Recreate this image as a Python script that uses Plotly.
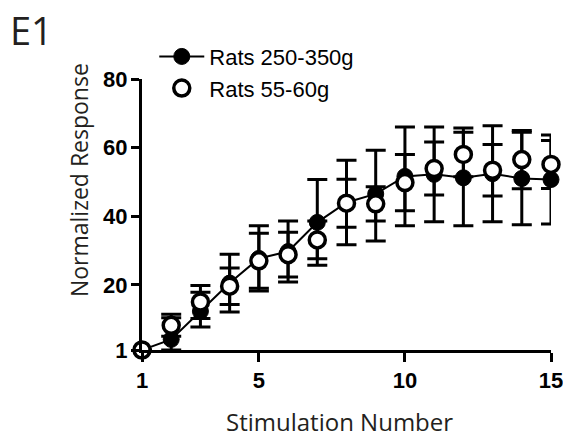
import plotly.graph_objects as go

stim = list(range(1, 16))

heavy_label = "Rats 250-350g"
heavy_mean = [1, 4.1, 12.3, 20.5, 27.7, 29.7, 38.2, 44.0, 46.5, 51.6, 52.2, 51.2, 52.4, 51.0, 50.7]
heavy_err_up = [0, 6.3, 5.5, 8.4, 9.5, 8.9, 12.5, 12.3, 12.7, 14.4, 13.8, 14.5, 14.0, 13.5, 13.0]
heavy_err_dn = [0, 3.1, 4.6, 8.4, 9.5, 8.9, 12.5, 12.3, 13.7, 14.4, 13.8, 14.0, 14.0, 13.5, 13.0]

young_label = "Rats 55-60g"
young_mean = [1, 8.2, 15.0, 19.6, 27.0, 28.8, 33.1, 43.8, 43.6, 49.8, 53.9, 58.0, 53.4, 56.5, 55.1]
young_err = [0, 3.2, 4.8, 5.3, 8.0, 6.5, 5.5, 7.0, 5.0, 8.2, 7.7, 6.5, 7.5, 8.5, 7.0]

x_ticks = [1, 5, 10, 15]
y_ticks = [1, 20, 40, 60, 80]

TXT = "#231f20"

fig = go.Figure()
fig.add_trace(go.Scatter(
    x=stim, y=heavy_mean, name=heavy_label, mode="lines+markers",
    legendgroup="a",
    line=dict(color="black", width=2),
    marker=dict(symbol="circle", size=16, color="black", line=dict(color="black", width=1)),
    error_y=dict(type="data", array=heavy_err_up, arrayminus=heavy_err_dn, symmetric=False,
                 color="black", thickness=3, width=10),
    cliponaxis=False,
))
fig.add_trace(go.Scatter(
    x=stim, y=young_mean, name=young_label, mode="markers",
    legendgroup="b",
    marker=dict(symbol="circle", size=16, color="white", line=dict(color="black", width=3.5)),
    error_y=dict(type="data", array=young_err, color="black", thickness=3, width=10),
    cliponaxis=False,
))

axis_common = dict(
    showline=True, linecolor="black", linewidth=3, mirror=False,
    ticks="outside", tickcolor="black", tickwidth=3, automargin=False,
    showgrid=False, zeroline=False, ticklabeloverflow="allow",
    tickfont=dict(family="Liberation Sans", size=22, color="black", weight="bold"),
)

fig.update_xaxes(range=[1, 15], tickvals=x_ticks, ticktext=[str(v) for v in x_ticks],
                 ticklen=9, **axis_common)
fig.update_yaxes(range=[1, 80], tickvals=y_ticks, ticktext=[str(v) for v in y_ticks],
                 ticklen=8, ticklabelstandoff=-1, **axis_common)

fig.add_annotation(text="E1", xref="paper", yref="paper", x=-0.327, y=1.18,
                   xanchor="left", yanchor="middle", showarrow=False,
                   font=dict(family="Open Sans", size=38, color=TXT))
fig.add_annotation(text="Normalized Response", xref="paper", yref="paper", x=-0.154, y=0.627,
                   xanchor="center", yanchor="middle", textangle=-90, showarrow=False,
                   font=dict(family="Open Sans", size=23, color=TXT))
fig.add_annotation(text="Stimulation Number", xref="paper", yref="paper", x=0.484, y=-0.262,
                   xanchor="center", yanchor="middle", showarrow=False,
                   font=dict(family="Open Sans", size=24, color=TXT))

fig.update_layout(
    width=563, height=438, autosize=False,
    margin=dict(l=142, r=12, t=79, b=88, autoexpand=False),
    plot_bgcolor="white", paper_bgcolor="white",
    showlegend=True,
    legend=dict(x=0.030, y=1.16, xanchor="left", yanchor="top",
                bgcolor="rgba(0,0,0,0)", traceorder="grouped", tracegroupgap=0,
                font=dict(family="Liberation Sans", size=22, color="black"),
                itemwidth=45),
)

fig.write_html(
    "out.html",
    config={"displayModeBar": False},
    post_script="document.body.style.margin='0';document.body.style.overflow='hidden';",
)
